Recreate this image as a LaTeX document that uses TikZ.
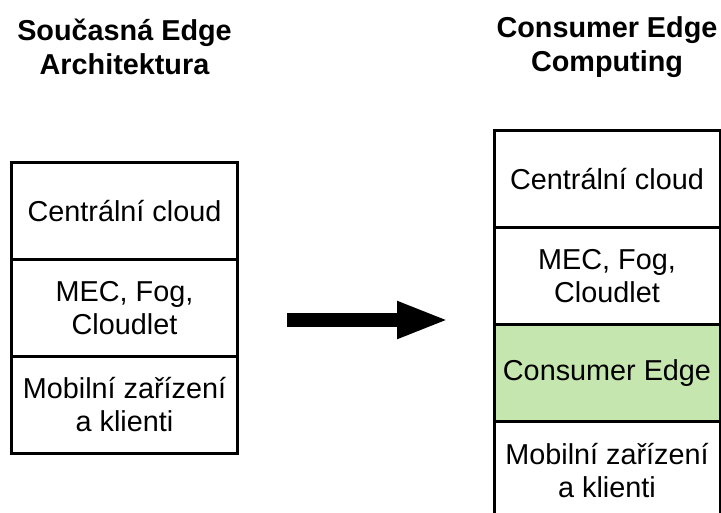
\documentclass[tikz,border=0pt]{standalone}
\usepackage{fontspec}
\setmainfont{Liberation Sans}
\usetikzlibrary{positioning,arrows.meta}
\definecolor{edgegreen}{RGB}{198,230,176}

\begin{document}
\begin{tikzpicture}[x=0.75pt,y=-0.75pt,
   layer/.style={draw,line width=2.25pt,outer sep=0pt,inner sep=0pt,
      minimum width=169.5pt,minimum height=72.75pt,align=center,
      font=\fontsize{21.6}{24.5}\selectfont},
   heading/.style={align=center,font=\fontsize{21.6}{25.5}\selectfont\bfseries},
   bigarrow/.style={line width=10.5pt,-{Triangle[length=39pt,width=25.5pt]}}]
   \clip (0,0) rectangle (721,512);

   \node[heading] (titleA) at (124.5,47) {Současná Edge\\Architektura};
   \node[heading] (titleB) at (607,47) {Consumer Edge\\Computing};

   \node[layer] (cloudA) at (124.5,210.8) {Centrální cloud};
   \node[layer,below=0pt of cloudA] (mecA) {MEC, Fog,\\Cloudlet};
   \node[layer,below=0pt of mecA] (mobileA) {Mobilní zařízení\\a klienti};

   \node[layer] (cloudB) at (607,179.2) {Centrální cloud};
   \node[layer,below=0pt of cloudB] (mecB) {MEC, Fog,\\Cloudlet};
   \node[layer,fill=edgegreen,below=0pt of mecB] (consumerB) {Consumer Edge};
   \node[layer,below=0pt of consumerB] (mobileB) {Mobilní zařízení\\a klienti};

   \coordinate (arrowfrom) at (287,320);
   \coordinate (arrowto) at (449,320);
   \draw[bigarrow] (arrowfrom) -- (arrowto);
\end{tikzpicture}
\end{document}
